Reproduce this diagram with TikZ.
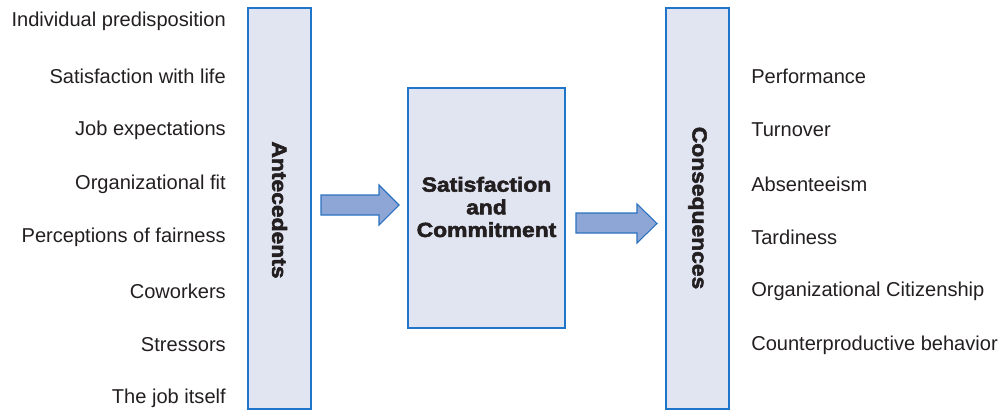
\documentclass[tikz,border=0pt]{standalone}
\usepackage{fontspec}
\setmainfont{Liberation Sans}
\newfontfamily\heavyfont[FakeStretch=1.12,FakeBold=2.6]{Liberation Sans}
\definecolor{txt}{HTML}{231F20}
\definecolor{boxfill}{HTML}{E1E5F2}
\definecolor{boxline}{HTML}{1F76C8}
\definecolor{arrfill}{HTML}{8EA6D6}
\definecolor{arrline}{HTML}{2A72C0}
\begin{document}
\begin{tikzpicture}[x=0.75pt,y=-0.75pt,
  panel/.style={draw=boxline,fill=boxfill,line width=0.9pt},
  blockarrow/.style={draw=arrline,fill=arrfill,line width=0.8pt,line join=miter},
  lefttext/.style={anchor=east,inner sep=0pt,text=txt,font=\fontsize{15.05pt}{18pt}\selectfont},
  righttext/.style={anchor=west,inner sep=0pt,text=txt,font=\fontsize{15.05pt}{18pt}\selectfont},
  heavy/.style={inner sep=0pt,text=txt,font=\heavyfont\bfseries\fontsize{15.3pt}{17pt}\selectfont,align=center}]
\useasboundingbox (0,0) rectangle (1000,411);
% boxes
\draw[panel] (248,8) rectangle (311,409);
\draw[panel] (408,88) rectangle (565,328);
\draw[panel] (666,8) rectangle (729,409);
\node[coordinate] (ant) at (279.5,210) {};
\node[heavy,rotate=-90] (antlbl) at (ant) {Antecedents};
\node[heavy] (mid) at (486.5,207) {Satisfaction\\and\\Commitment};
\node[heavy,rotate=-90] (conlbl) at (697.5,208) {Consequences};
% arrows
\draw[blockarrow] (321,195) -- (379,195) -- (379,185) -- (399,205) -- (379,225) -- (379,215) -- (321,215) -- cycle;
\draw[blockarrow] (576,213) -- (637,213) -- (637,204) -- (657,223.5) -- (637,243) -- (637,233) -- (576,233) -- cycle;
% left labels
\node[lefttext] (l1) at (226,21) {Individual predisposition};
\node[lefttext] (l2) at (226,76) {Satisfaction with life};
\node[lefttext] (l3) at (226,130) {Job expectations};
\node[lefttext] (l4) at (226,184) {Organizational fit};
\node[lefttext] (l5) at (226,237) {Perceptions of fairness};
\node[lefttext] (l6) at (226,291) {Coworkers};
\node[lefttext] (l7) at (226,345) {Stressors};
\node[lefttext] (l8) at (226,398) {The job itself};
% right labels
\node[righttext] (r1) at (751,76) {Performance};
\node[righttext] (r2) at (751,130) {Turnover};
\node[righttext] (r3) at (751,184) {Absenteeism};
\node[righttext] (r4) at (751,237) {Tardiness};
\node[righttext] (r5) at (751,291) {Organizational Citizenship};
\node[righttext] (r6) at (751,345) {Counterproductive behavior};
\end{tikzpicture}
\end{document}
